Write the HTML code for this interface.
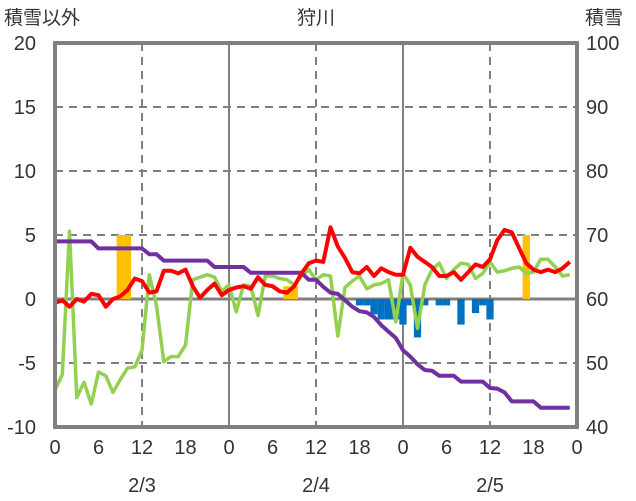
<!DOCTYPE html>
<html><head><meta charset="utf-8"><style>
body{margin:0;background:#fff;}
svg{display:block;font-family:"Liberation Sans","Noto Sans CJK JP",sans-serif;}
</style></head><body>
<svg id="chart" width="636" height="501" viewBox="0 0 636 501">
<g id="grid"></g>
<g id="bars"></g>
<g id="lines"></g>
<rect x="55" y="43" width="522" height="384" fill="none" stroke="#808080" stroke-width="4"/>
<g id="axes" fill="#333" font-size="20"></g>
<text x="4" y="24" font-size="19" fill="#333">積雪以外</text>
<text x="316" y="24" font-size="19" fill="#333" text-anchor="middle">狩川</text>
<text x="585" y="24" font-size="19" fill="#333">積雪</text>
</svg>
<script>
const leftTicks=[-10,-5,0,5,10,15,20];
const rightTicks=[40,50,60,70,80,90,100];
const xTickLabels=["0","6","12","18","0","6","12","18","0","6","12","18","0"];
const dateLabels=["2/3","2/4","2/5"];
const redSeries=[-0.3,-0.1,-0.6,0,-0.2,0.4,0.3,-0.6,0,0.2,0.7,1.6,1.4,0.5,0.6,2.2,2.2,2.0,2.3,1.0,0.1,0.7,1.2,0.3,0.7,0.9,1.0,0.8,1.7,1.1,1.0,0.6,0.5,1.0,2.0,2.8,3.0,2.9,5.6,4.1,3.2,2.1,2.0,2.5,1.8,2.4,2.1,1.9,1.9,4.0,3.3,2.9,2.5,1.8,1.8,2.1,1.5,2.1,2.7,2.5,3.1,4.6,5.4,5.2,4.0,2.8,2.3,2.1,2.3,2.1,2.4,2.9];
const greenSeries=[-7.1,-5.9,5.3,-7.7,-6.5,-8.2,-5.7,-6.0,-7.3,-6.3,-5.4,-5.3,-4.0,1.9,-0.5,-4.9,-4.5,-4.5,-3.6,1.5,1.7,1.9,1.7,0.6,1.1,-1.0,1.1,1.0,-1.3,1.8,1.8,1.6,1.5,1.1,1.8,2.3,1.5,1.9,1.8,-2.9,0.9,1.4,1.8,0.8,1.1,1.2,1.5,-1.8,2.0,1.1,-2.3,1.1,2.3,2.8,1.6,2.3,2.8,2.7,1.6,2.0,2.9,2.1,2.2,2.4,2.5,2.0,2.1,3.1,3.1,2.5,1.8,1.9];
const snowDepth=[69,69,69,69,69,69,67.9,67.9,67.9,67.9,67.9,67.9,67.9,67,67,66,66,66,66,66,66,66,65,65,65,65,65,64.1,64.1,64.1,64.1,64.1,64.1,64.1,64.1,63,63,61.9,61,60.8,59.8,58.8,58.1,57.9,57.2,55.9,54.9,53.9,52,51,49.8,48.9,48.8,48,48,48,47.1,47.1,47.1,47.1,46.1,46,45.4,44,44,44,44,43,43,43,43,43];
const snowChange=[0,0,0,0,0,0,0,0,0,5,5,0,0,0,0,0,0,0,0,0,0,0,0,0,0,0,0,0,0,0,0,0,1,1,0,0,0,0,0,0,0,0,-0.5,-0.5,-1.2,-1.6,-1.6,-1.6,-2.0,-0.5,-3.0,-0.5,0,-0.5,-0.5,0,-2.0,0,-1.1,-0.5,-1.6,0,0,0,0,5,0,0,0,0,0,0];
const NS="http://www.w3.org/2000/svg";
const X0=55,X1=577,Y0=427,Y1=43;
const xs=h=>X0+(X1-X0)*h/72;
const yl=v=>Y0-(v+10)*(Y0-Y1)/30;
const yr=v=>Y0-(v-40)*(Y0-Y1)/60;
function mk(tag,attrs,parent){const e=document.createElementNS(NS,tag);for(const k in attrs)e.setAttribute(k,attrs[k]);parent.appendChild(e);return e;}
const grid=document.getElementById('grid'),axes=document.getElementById('axes'),bars=document.getElementById('bars'),lines=document.getElementById('lines');
leftTicks.forEach(v=>{
  if(v>-10&&v<20){const l=mk('line',{x1:X0,x2:X1,y1:yl(v),y2:yl(v),stroke:'#808080','stroke-width':v===0?3:2,'stroke-dasharray':v===0?'none':'8 6'},grid);
  }
  const t=mk('text',{x:36,y:yl(v)+7,'text-anchor':'end'},axes);t.textContent=v;
  
});
rightTicks.forEach(v=>{const t=mk('text',{x:586,y:yr(v)+7},axes);t.textContent=v;
  });
xTickLabels.forEach((s,i)=>{const h=i*6;
  if(h>0&&h<72&&h%12===0){const day=h%24===0;const l=mk('line',{x1:xs(h),x2:xs(h),y1:Y1,y2:Y0,stroke:'#808080','stroke-width':2,'stroke-dasharray':day?'none':'8 6'},grid);
  }
  const t=mk('text',{x:xs(h),y:454,'text-anchor':'middle'},axes);t.textContent=s;
  });
dateLabels.forEach((s,i)=>{const t=mk('text',{x:xs(12+24*i),y:492,'text-anchor':'middle'},axes);t.textContent=s;
  });
const bw=(X1-X0)/72;
snowChange.forEach((v,h)=>{if(v===0)return;
  const y=Math.min(yl(v),yl(0)),hh=Math.abs(yl(v)-yl(0));
  const r=mk('rect',{x:xs(h)-bw/2,y:y,width:bw,height:hh,fill:v>0?'#FFC000':'#0070C0'},bars);
  });
function line(arr,fy,color,w,name){const p=arr.map((v,h)=>xs(h).toFixed(1)+','+fy(v).toFixed(1)).join(' ');
  const e=mk('polyline',{points:p,fill:'none',stroke:color,'stroke-width':w,'stroke-linejoin':'round'},lines);
  }
line(greenSeries,yl,'#92D050',3.5,'green-line');
line(snowDepth,yr,'#7030A0',4,'snow-depth-line');
line(redSeries,yl,'#FF0000',4,'red-line');
</script>
</body></html>
